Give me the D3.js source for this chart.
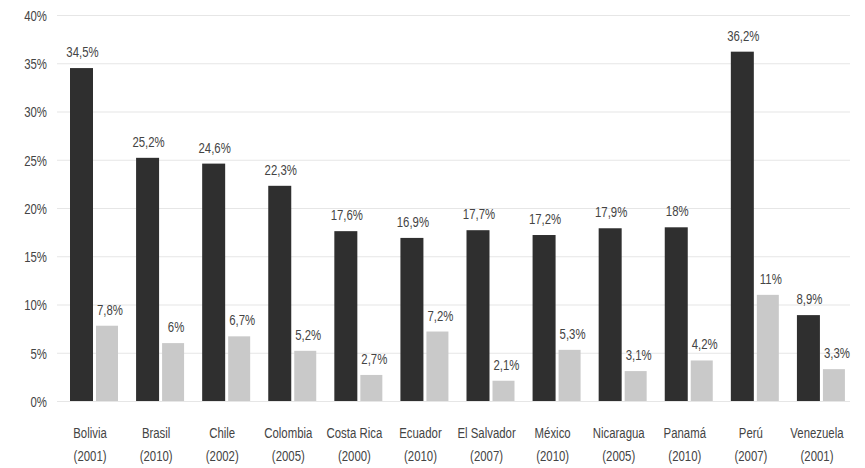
<!DOCTYPE html>
<html>
<head>
<meta charset="utf-8">
<script src="https://cdn.jsdelivr.net/npm/d3@7"></script>
<style>
  html, body { margin: 0; padding: 0; background: #fff; }
  svg text { font-family: "Liberation Sans", Arial, sans-serif; fill: #444; font-size: 15px; }
</style>
</head>
<body>
<svg id="chart"></svg>
<script>
const countries = ["Bolivia", "Brasil", "Chile", "Colombia", "Costa Rica", "Ecuador",
  "El Salvador", "México", "Nicaragua", "Panamá", "Perú", "Venezuela"];
const years = ["(2001)", "(2010)", "(2002)", "(2005)", "(2000)", "(2010)",
  "(2007)", "(2010)", "(2005)", "(2010)", "(2007)", "(2001)"];
const darkValues = [34.5, 25.2, 24.6, 22.3, 17.6, 16.9, 17.7, 17.2, 17.9, 18, 36.2, 8.9];
const lightValues = [7.8, 6, 6.7, 5.2, 2.7, 7.2, 2.1, 5.3, 3.1, 4.2, 11, 3.3];
const yTicks = [0, 5, 10, 15, 20, 25, 30, 35, 40];

const width = 865, height = 468;
const margin = { left: 57, right: 15, top: 15, bottom: 67 };
const squeeze = 0.76; // condensed look of the original type

const svg = d3.select("#chart").attr("width", width).attr("height", height);

const es = d3.formatLocale({ decimal: ",", thousands: ".", grouping: [3], currency: ["", ""] });
const fmt = (v) => es.format("~")(v) + "%";

const x = d3.scaleBand()
  .domain(countries)
  .range([margin.left, width - margin.right]);

const y = d3.scaleLinear()
  .domain([0, 40])
  .range([height - margin.bottom, margin.top]);

// narrow text helper: place at (px, py) and squeeze horizontally
function place(sel, px, py) {
  sel.attr("x", 0).attr("y", 0)
    .attr("transform", (d, i) => `translate(${px(d, i)},${py(d, i)}) scale(${squeeze},1)`);
}

// gridlines + y labels
const y_axis = d3.axisLeft(y)
  .tickValues(yTicks)
  .tickFormat((d) => d + "%")
  .tickSize(-(width - margin.left - margin.right))
  .tickPadding(10);

const gy = svg.append("g")
  .attr("transform", `translate(${margin.left},0)`)
  .call(y_axis);
gy.select(".domain").remove();
gy.selectAll(".tick line").attr("stroke", "#e6e6e6").attr("stroke-width", 1.2);
gy.selectAll(".tick text")
  .attr("fill", "#555")
  .attr("font-size", null)
  .attr("dy", "0.35em")
  .attr("transform", `translate(-10,0) scale(${squeeze},1)`)
  .attr("x", 0);

const darkOff = 13, darkW = 23, lightOff = 39, lightW = 22;

// dark bars
svg.append("g").selectAll("rect")
  .data(darkValues)
  .join("rect")
  .attr("x", (d, i) => x(countries[i]) + darkOff)
  .attr("y", (d) => y(d))
  .attr("width", darkW)
  .attr("height", (d) => y(0) - y(d))
  .attr("fill", "#2f2f2f");

// light bars
svg.append("g").selectAll("rect")
  .data(lightValues)
  .join("rect")
  .attr("x", (d, i) => x(countries[i]) + lightOff)
  .attr("y", (d) => y(d))
  .attr("width", lightW)
  .attr("height", (d) => y(0) - y(d))
  .attr("fill", "#c9c9c9");

// value labels
svg.append("g").selectAll("text")
  .data(darkValues)
  .join("text")
  .attr("text-anchor", "middle")
  .text(fmt)
  .call(place, (d, i) => x(countries[i]) + darkOff + darkW / 2 + 1, (d) => y(d) - 11);

svg.append("g").selectAll("text")
  .data(lightValues)
  .join("text")
  .attr("text-anchor", "middle")
  .text(fmt)
  .call(place, (d, i) => x(countries[i]) + lightOff + lightW / 2 + 3, (d) => y(d) - 11);

// category labels
svg.append("g").selectAll("text")
  .data(countries)
  .join("text")
  .attr("text-anchor", "middle")
  .text((d) => d)
  .call(place, (d) => x(d) + x.bandwidth() / 2, () => 438);

svg.append("g").selectAll("text")
  .data(years)
  .join("text")
  .attr("text-anchor", "middle")
  .text((d) => d)
  .call(place, (d, i) => x(countries[i]) + x.bandwidth() / 2, () => 461);
</script>
</body>
</html>
